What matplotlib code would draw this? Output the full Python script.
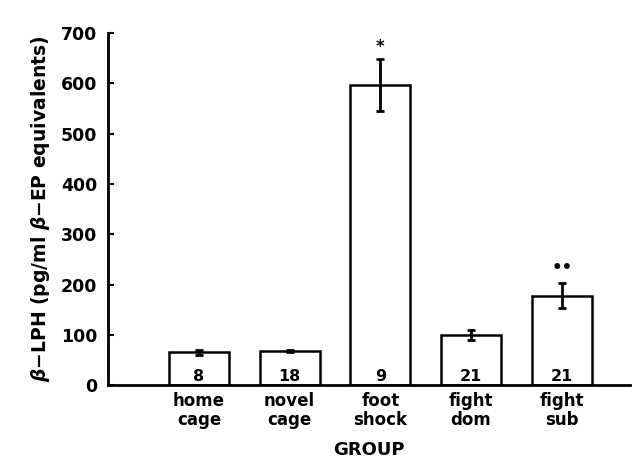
import matplotlib.pyplot as plt

# datos
grupos = ["home\ncage", "novel\ncage", "foot\nshock", "fight\ndom", "fight\nsub"]
medias = [65, 68, 597, 100, 178]
errores = [5, 2, 52, 10, 25]
n_animales = ["8", "18", "9", "21", "21"]
signif = ["", "", "*", "", "••"]
signif_y = [0, 0, 672, 0, 232]

plt.rcParams['font.family'] = ['DejaVu Sans']
plt.rcParams['font.weight'] = 'bold'

fig = plt.figure(figsize=(6.33, 4.63), dpi=100)
ax = fig.add_axes([0.171, 0.168, 0.824, 0.761])

pos = list(range(len(grupos)))
ax.bar(pos, medias, width=0.66, color="white", edgecolor="black", linewidth=1.8)
ax.errorbar(pos, medias, yerr=errores, fmt="none", ecolor="black",
            elinewidth=2, capsize=3, capthick=2)

for i in pos:
    ax.text(i, 2, n_animales[i], ha="center", va="bottom", fontsize=11.5, fontweight="bold")
    if signif[i]:
        ax.text(i, signif_y[i], signif[i], ha="center", va="center", fontsize=12, fontweight="bold")

ax.set_xlim(-1.0, 4.75)
ax.set_ylim(0, 700)
ax.set_yticks(range(0, 701, 100))
ax.set_xticks(pos)
ax.set_xticklabels(grupos, fontsize=12, linespacing=1.05, fontweight="bold")
ax.tick_params(axis="x", length=0, pad=5)
ax.tick_params(axis="y", direction="in", length=4, width=1.5, labelsize=12.5, pad=8)
ax.spines["top"].set_visible(False)
ax.spines["right"].set_visible(False)
ax.spines["left"].set_linewidth(2)
ax.spines["bottom"].set_linewidth(2)
ax.set_xlabel("GROUP", fontsize=13, labelpad=9, fontweight="bold")
ax.set_ylabel(r"$\beta$−LPH (pg/ml $\beta$−EP equivalents)", fontsize=13.5, labelpad=6, fontweight="bold")

fig.savefig("out.png", dpi=100)
